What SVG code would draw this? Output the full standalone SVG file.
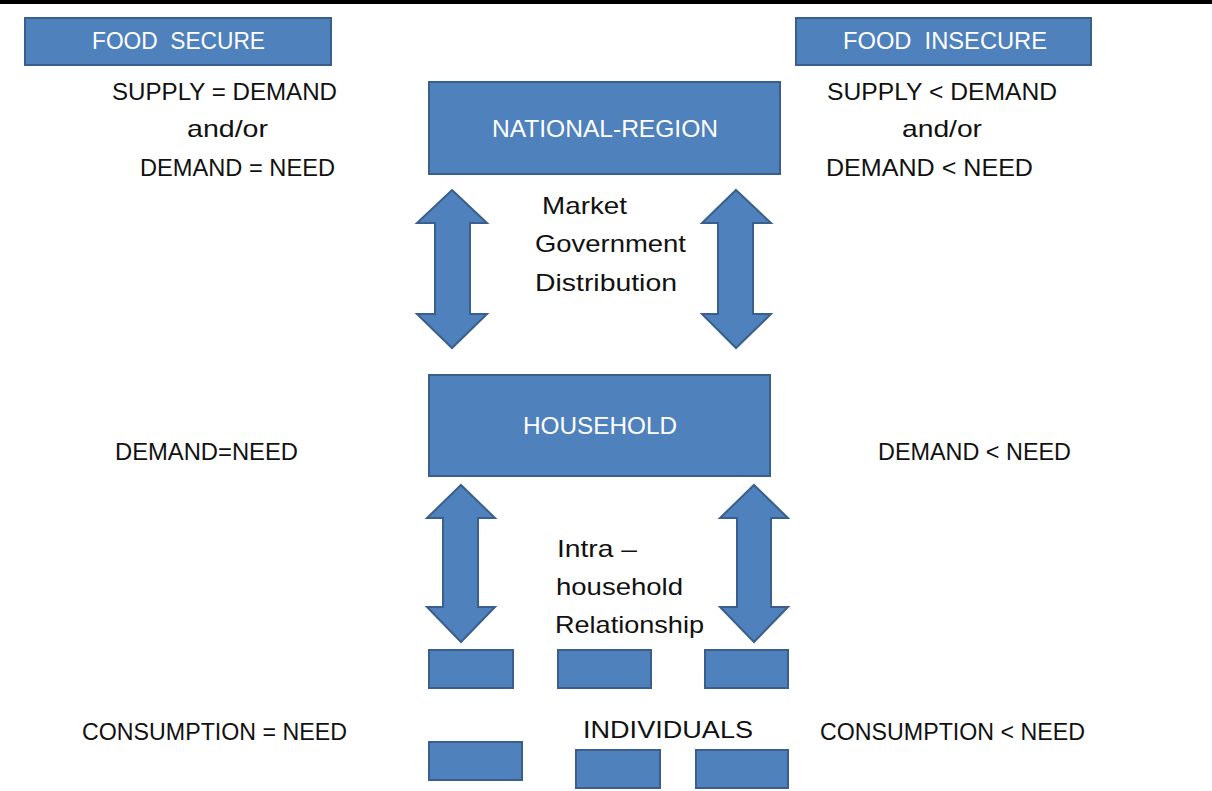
<svg xmlns="http://www.w3.org/2000/svg" width="1212" height="791" viewBox="0 0 1212 791">
<style>
.box{fill:#4F81BD;stroke:#3A5F8C;stroke-width:2}
.arr{fill:#4F81BD;stroke:#3A5F8C;stroke-width:2;stroke-linejoin:miter}
text{font-family:"Liberation Sans",Arial,sans-serif;font-size:24px;fill:#111}
.w{fill:#ffffff}
</style>
<rect x="0" y="0" width="1212" height="791" fill="#ffffff"/>
<rect x="0" y="0" width="1212" height="4" fill="#000000"/>

<g id="food-secure">
<rect class="box" x="25" y="18" width="306" height="47"/>
<text class="w" x="92" y="49" textLength="173" lengthAdjust="spacingAndGlyphs">FOOD&#160; SECURE</text>
</g>
<g id="food-insecure">
<rect class="box" x="796" y="18" width="295" height="47"/>
<text class="w" x="843" y="49" textLength="204" lengthAdjust="spacingAndGlyphs">FOOD&#160; INSECURE</text>
</g>

<g id="secure-national">
<text x="112" y="100" textLength="225" lengthAdjust="spacingAndGlyphs">SUPPLY = DEMAND</text>
<text x="187" y="137" textLength="81" lengthAdjust="spacingAndGlyphs">and/or</text>
<text x="140" y="176" textLength="195" lengthAdjust="spacingAndGlyphs">DEMAND = NEED</text>
</g>
<g id="insecure-national">
<text x="827" y="100" textLength="230" lengthAdjust="spacingAndGlyphs">SUPPLY &lt; DEMAND</text>
<text x="902" y="137" textLength="80" lengthAdjust="spacingAndGlyphs">and/or</text>
<text x="826" y="176" textLength="207" lengthAdjust="spacingAndGlyphs">DEMAND &lt; NEED</text>
</g>

<g id="national-region">
<rect class="box" x="429" y="82" width="351" height="92"/>
<text class="w" x="492" y="137" textLength="226" lengthAdjust="spacingAndGlyphs">NATIONAL-REGION</text>
</g>

<g id="market-label">
<text x="542" y="214" textLength="85" lengthAdjust="spacingAndGlyphs">Market</text>
<text x="535" y="252" textLength="151" lengthAdjust="spacingAndGlyphs">Government</text>
<text x="535" y="291" textLength="142" lengthAdjust="spacingAndGlyphs">Distribution</text>
</g>

<g id="household">
<rect class="box" x="429" y="375" width="341" height="101"/>
<text class="w" x="523" y="434" textLength="154" lengthAdjust="spacingAndGlyphs">HOUSEHOLD</text>
</g>

<g id="secure-household">
<text x="115" y="460" textLength="183" lengthAdjust="spacingAndGlyphs">DEMAND=NEED</text>
</g>
<g id="insecure-household">
<text x="878" y="460" textLength="193" lengthAdjust="spacingAndGlyphs">DEMAND &lt; NEED</text>
</g>

<g id="intra-label">
<text x="557" y="557" textLength="80" lengthAdjust="spacingAndGlyphs">Intra –</text>
<text x="556" y="595" textLength="127" lengthAdjust="spacingAndGlyphs">household</text>
<text x="555" y="633" textLength="149" lengthAdjust="spacingAndGlyphs">Relationship</text>
</g>

<g id="individuals">
<rect class="box" x="429" y="650" width="84" height="38"/>
<rect class="box" x="558" y="650" width="93" height="38"/>
<rect class="box" x="705" y="650" width="83" height="38"/>
<rect class="box" x="429" y="742" width="93" height="38"/>
<rect class="box" x="576" y="750" width="84" height="38"/>
<rect class="box" x="696" y="750" width="92" height="38"/>
<text x="583" y="738" textLength="170" lengthAdjust="spacingAndGlyphs">INDIVIDUALS</text>
</g>

<g id="secure-individual">
<text x="82" y="740" textLength="265" lengthAdjust="spacingAndGlyphs">CONSUMPTION = NEED</text>
</g>
<g id="insecure-individual">
<text x="820" y="740" textLength="265" lengthAdjust="spacingAndGlyphs">CONSUMPTION &lt; NEED</text>
</g>

<g id="connectors">
<polygon class="arr" points="452,190 487,223 470,223 470,314 487,314 452,348 417,314 435,314 435,223 417,223"/>
<polygon class="arr" points="736,190 771,223 753,223 753,314 771,314 736,348 702,314 718,314 718,223 702,223"/>
<polygon class="arr" points="461,485 495,518 478,518 478,607 495,607 461,642 427,607 443,607 443,518 427,518"/>
<polygon class="arr" points="754,485 788,518 771,518 771,607 788,607 754,642 720,607 737,607 737,518 720,518"/>
</g>
</svg>
